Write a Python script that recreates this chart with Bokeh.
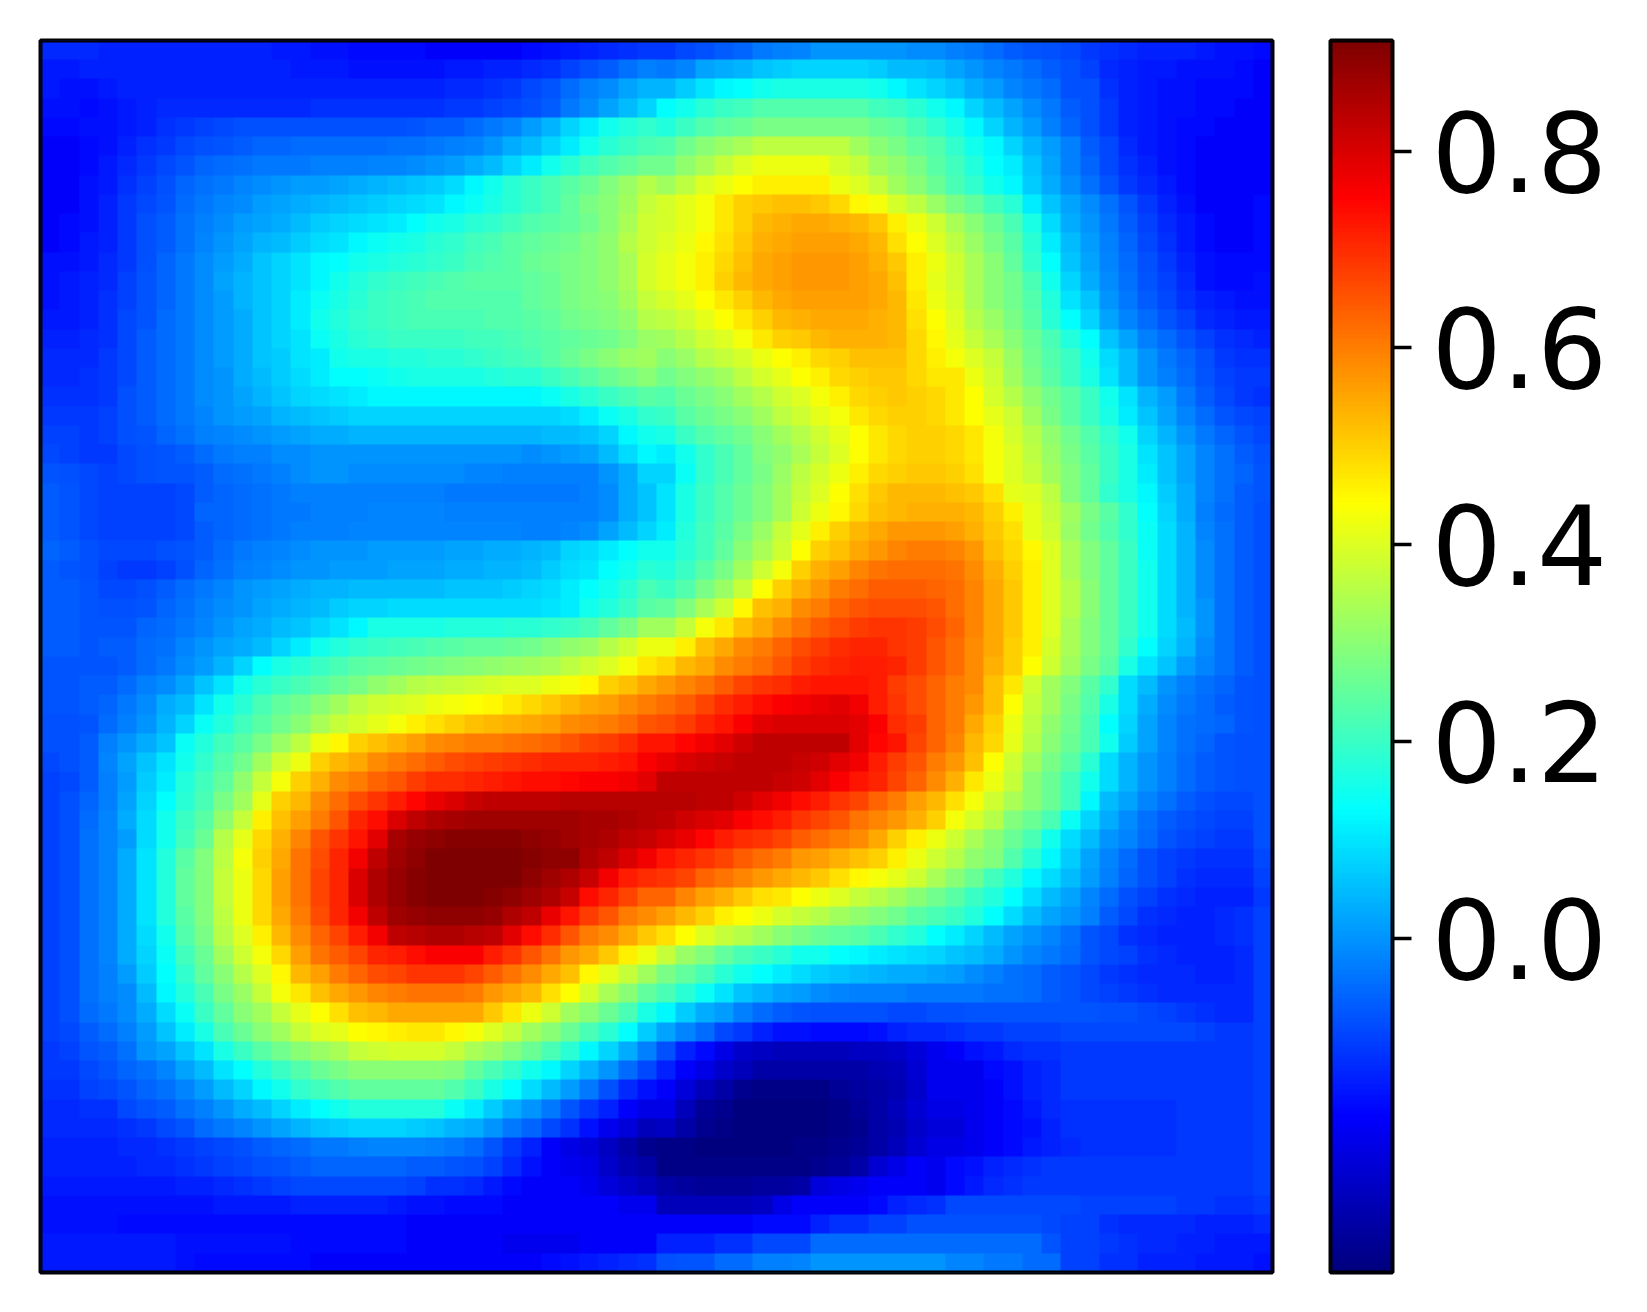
from bokeh.plotting import figure
from bokeh.layouts import row
from bokeh.models import LinearColorMapper, FixedTicker, Range1d, BoxAnnotation, PrintfTickFormatter
from bokeh.embed import file_html
from bokeh.resources import INLINE
import numpy as np

vmin, vmax = -0.34, 0.9126
tick_values = [0.0, 0.2, 0.4, 0.6, 0.8]

# colour readings, in hundredths, one list per image row (top row first)
row_00 = [-15,-15,-15,-16,-16,-16,-16,-16,-16,-16,-16,-16,-17,-17,-18,-18,-19,-19,-19,-19,-20,-20,-20,-20,-20,-19,-18,-17,-16,-15,-14,-13,-13,-11,-10,-8,-7,-4,-3,-2,0,0,0,0,0,-1,-1,-3,-4,-6,-8,-9,-10,-11,-13,-14,-15,-16,-16,-16,-17,-18,-18,-19]
row_01 = [-17,-17,-16,-16,-16,-16,-16,-16,-16,-16,-16,-16,-16,-17,-17,-17,-18,-18,-18,-18,-18,-17,-17,-16,-16,-15,-14,-12,-10,-8,-5,-3,-4,-2,2,3,4,6,7,8,8,8,8,7,5,5,4,2,0,-2,-4,-6,-8,-10,-12,-15,-16,-17,-17,-18,-18,-18,-19,-20]
row_02 = [-17,-18,-18,-17,-16,-16,-16,-16,-16,-16,-16,-16,-16,-16,-16,-16,-16,-16,-16,-16,-16,-15,-15,-14,-13,-11,-9,-6,-3,-1,2,4,4,7,10,12,13,15,16,16,16,16,16,15,12,10,8,6,3,1,-2,-4,-6,-10,-10,-14,-16,-17,-18,-18,-19,-19,-19,-20]
row_03 = [-18,-18,-19,-18,-17,-16,-15,-15,-15,-15,-15,-15,-15,-15,-14,-14,-14,-14,-14,-14,-14,-13,-13,-12,-11,-10,-8,-4,-1,2,5,8,13,15,18,20,21,23,23,23,23,23,23,21,20,18,15,12,8,5,2,-1,-4,-8,-10,-13,-16,-17,-18,-18,-19,-19,-20,-20]
row_04 = [-19,-19,-18,-18,-17,-16,-14,-13,-12,-11,-10,-10,-10,-10,-10,-10,-10,-10,-10,-9,-8,-8,-6,-4,-2,1,4,8,11,15,17,19,17,20,23,25,26,28,28,28,28,28,28,26,25,22,19,16,12,8,4,1,-3,-7,-10,-13,-16,-17,-18,-19,-19,-20,-20,-20]
row_05 = [-20,-20,-19,-18,-16,-14,-13,-11,-10,-9,-8,-7,-7,-6,-6,-6,-6,-6,-5,-5,-4,-3,-2,0,3,5,8,11,15,18,20,22,23,27,30,32,34,36,36,36,36,36,33,30,28,25,23,19,15,12,8,4,1,-3,-8,-11,-15,-17,-18,-19,-20,-20,-20,-20]
row_06 = [-20,-20,-19,-17,-15,-13,-11,-9,-7,-6,-5,-4,-4,-4,-3,-3,-3,-2,-2,-1,0,1,3,5,8,11,15,18,21,23,25,27,27,31,34,37,40,42,42,42,42,39,37,33,31,28,24,21,17,13,11,6,2,-3,-7,-11,-14,-16,-18,-19,-20,-20,-20,-20]
row_07 = [-20,-20,-18,-17,-14,-12,-10,-7,-5,-4,-2,-1,0,1,1,2,3,4,5,6,7,9,12,15,18,20,22,24,26,29,32,35,33,36,40,42,44,46,46,46,46,42,40,37,33,30,26,22,19,15,12,7,3,-1,-5,-9,-13,-15,-17,-19,-20,-20,-20,-20]
row_08 = [-20,-20,-18,-16,-13,-11,-9,-6,-4,-2,-1,1,2,3,4,5,6,7,8,9,10,12,14,16,18,20,22,25,28,30,33,37,39,41,43,47,50,51,52,52,51,49,45,43,39,36,32,28,25,21,18,11,6,2,-1,-5,-9,-13,-16,-18,-20,-20,-20,-19]
row_09 = [-20,-19,-18,-16,-13,-10,-8,-5,-3,-1,1,2,3,5,7,8,9,10,11,13,15,16,18,19,21,23,24,25,27,30,34,38,39,41,43,47,50,53,54,55,55,54,53,51,46,42,38,34,30,26,22,16,9,3,0,-4,-8,-12,-15,-17,-19,-20,-20,-19]
row_10 = [-20,-19,-17,-16,-13,-10,-8,-5,-2,0,2,4,5,7,9,10,12,14,15,16,18,19,21,22,24,25,26,27,29,31,35,38,40,42,45,48,51,54,55,56,56,56,55,53,48,44,40,36,32,28,24,18,11,5,1,-3,-7,-11,-14,-17,-19,-20,-20,-19]
row_11 = [-18,-18,-17,-15,-13,-10,-7,-4,-1,1,3,6,8,10,12,13,15,16,17,18,19,20,22,23,24,26,27,28,29,31,34,39,41,43,46,49,52,55,56,57,57,57,56,54,51,46,42,38,34,30,25,19,13,6,2,-2,-6,-10,-13,-16,-18,-19,-19,-19]
row_12 = [-18,-17,-16,-15,-12,-9,-7,-4,-1,2,4,6,8,10,12,15,17,19,20,21,22,23,24,24,24,25,26,28,29,31,34,39,41,43,46,50,53,55,56,57,57,57,56,55,52,46,41,38,34,30,27,22,15,8,3,-1,-5,-9,-12,-15,-18,-19,-19,-18]
row_13 = [-18,-17,-16,-14,-12,-9,-7,-4,-1,1,4,6,8,11,14,16,18,20,21,22,23,23,23,23,23,25,26,28,29,30,33,37,39,41,44,47,50,53,55,56,56,56,56,55,53,47,42,39,34,30,27,23,17,10,6,0,-4,-8,-11,-14,-16,-17,-18,-18]
row_14 = [-17,-17,-16,-14,-11,-9,-6,-4,-1,1,3,6,8,11,15,17,19,20,21,22,22,22,22,23,23,24,25,27,28,29,31,35,36,38,41,44,47,50,53,54,55,55,55,54,53,48,44,40,35,32,28,24,18,13,8,2,-2,-6,-9,-12,-15,-16,-17,-17]
row_15 = [-16,-16,-15,-14,-11,-8,-6,-4,-1,1,3,6,8,10,14,16,18,19,20,20,20,20,21,21,22,23,24,25,26,27,29,32,33,35,38,40,43,47,50,51,53,54,54,54,53,49,45,41,37,34,30,26,22,17,13,6,2,-3,-6,-9,-12,-14,-15,-16]
row_16 = [-15,-15,-15,-13,-11,-8,-6,-4,-1,1,3,6,7,10,11,15,16,16,17,17,18,18,19,20,21,22,24,26,28,30,32,33,30,32,35,37,39,42,44,46,49,50,52,52,52,49,46,43,40,37,32,27,23,20,15,9,5,0,-4,-7,-10,-13,-14,-14]
row_17 = [-15,-15,-14,-13,-11,-8,-6,-4,-1,0,3,5,7,9,11,13,13,14,15,16,16,16,16,17,18,18,20,22,24,26,28,30,27,29,31,33,36,39,41,44,46,49,50,51,51,49,47,47,42,38,33,28,24,20,16,10,5,0,-3,-6,-9,-12,-13,-13]
row_18 = [-14,-14,-14,-13,-10,-8,-6,-4,-1,0,2,4,6,8,9,10,11,12,12,12,12,12,12,12,12,12,14,16,18,20,22,24,23,26,28,30,33,35,38,40,43,46,49,50,51,50,49,47,44,39,35,31,27,24,20,15,10,4,1,-4,-8,-11,-13,-14]
row_19 = [-13,-13,-13,-12,-10,-8,-6,-4,-2,0,1,2,4,5,6,7,8,8,8,8,8,8,8,8,8,8,8,9,11,14,16,19,20,24,26,28,30,33,36,38,41,43,47,49,50,50,49,47,44,41,38,33,28,24,20,16,11,6,2,-2,-6,-9,-11,-12]
row_20 = [-12,-12,-13,-12,-10,-9,-7,-5,-3,-2,-1,0,1,2,3,3,4,4,4,4,4,4,4,4,4,4,5,5,6,8,12,15,16,20,23,25,27,30,33,35,38,41,44,47,49,50,50,49,47,43,39,35,31,27,23,19,15,8,4,0,-4,-7,-9,-11]
row_21 = [-11,-12,-13,-13,-11,-10,-9,-8,-6,-4,-3,-3,-1,-1,0,0,0,0,0,0,0,0,0,0,0,-1,0,1,2,5,9,12,11,15,19,22,25,29,31,34,37,40,44,47,49,50,50,49,47,43,40,36,32,28,24,20,16,10,6,2,-2,-5,-8,-10]
row_22 = [-9,-10,-11,-12,-11,-10,-9,-9,-8,-6,-5,-4,-3,-1,0,0,-1,-1,-1,-1,-1,-1,-2,-2,-3,-3,-3,-3,-3,0,3,8,8,14,19,22,25,28,32,36,39,42,46,49,50,51,51,50,48,43,40,37,33,29,25,20,16,11,6,2,-2,-5,-7,-9]
row_23 = [-8,-9,-11,-12,-12,-12,-12,-11,-8,-7,-6,-5,-4,-3,-3,-3,-3,-3,-3,-3,-3,-4,-4,-4,-4,-4,-4,-4,-3,-1,3,6,10,16,20,23,26,29,33,37,40,44,48,51,53,53,53,52,51,48,41,40,36,29,25,19,16,12,7,3,-2,-5,-8,-9]
row_24 = [-8,-9,-11,-12,-12,-12,-12,-11,-7,-7,-6,-5,-4,-4,-3,-3,-3,-2,-2,-2,-2,-3,-3,-3,-3,-3,-3,-3,-3,-1,3,6,10,16,20,23,26,29,33,38,42,45,49,52,53,54,54,54,53,50,46,41,37,33,28,24,19,13,8,3,-3,-6,-8,-10]
row_25 = [-8,-9,-11,-12,-12,-12,-12,-11,-8,-7,-6,-5,-4,-3,-3,-3,-2,-2,-2,-2,-2,-2,-2,-2,-2,-3,-3,-2,-1,2,5,8,11,17,21,24,28,32,37,41,46,50,53,55,57,57,57,56,54,51,48,41,38,32,27,23,19,14,9,4,-2,-5,-8,-10]
row_26 = [-7,-8,-10,-11,-11,-11,-10,-9,-8,-6,-4,-3,-2,-1,0,0,0,1,1,1,1,2,2,3,3,4,5,8,9,11,13,15,15,18,21,25,30,34,38,44,50,52,55,57,59,60,60,59,57,52,49,45,40,34,29,25,20,14,9,4,-1,-5,-8,-10]
row_27 = [-8,-9,-10,-12,-13,-13,-12,-10,-7,-5,-3,-2,-1,0,0,1,1,1,2,2,2,3,3,4,4,5,7,9,10,13,15,18,17,20,24,28,33,38,43,50,54,56,59,61,62,62,62,61,58,54,50,46,40,34,29,25,20,15,9,4,-1,-5,-8,-10]
row_28 = [-8,-8,-9,-11,-11,-10,-8,-6,-4,-2,0,1,2,3,4,4,5,5,5,5,5,6,6,6,7,8,9,11,13,15,18,22,20,23,28,32,37,44,50,54,57,60,62,64,64,64,63,62,59,55,51,46,40,35,30,25,20,15,9,4,-1,-5,-8,-10]
row_29 = [-8,-8,-9,-10,-10,-9,-7,-5,-3,-1,0,2,3,4,5,7,8,8,9,9,9,9,9,9,9,9,10,11,15,17,20,24,25,29,34,38,45,52,54,58,60,63,65,66,66,66,65,62,59,55,51,46,40,35,30,25,20,15,9,4,0,-5,-8,-10]
row_30 = [-8,-8,-9,-9,-9,-7,-6,-4,-2,0,2,3,5,6,8,10,12,16,16,16,16,17,17,17,18,18,19,20,22,25,28,33,33,37,43,47,52,55,58,61,64,66,68,69,69,68,66,63,59,55,51,46,40,34,29,25,20,15,9,5,0,-5,-8,-10]
row_31 = [-8,-8,-9,-8,-8,-6,-5,-2,0,2,3,5,8,11,15,17,19,20,21,22,23,24,25,25,26,27,29,31,32,35,38,42,42,46,52,55,58,60,63,66,68,70,71,71,69,68,65,62,58,55,50,46,39,34,29,25,19,13,8,4,-1,-5,-8,-10]
row_32 = [-9,-9,-9,-9,-8,-6,-4,-1,1,4,8,13,16,18,20,22,24,25,26,27,28,29,30,31,32,33,34,36,38,40,43,47,49,53,55,58,60,62,65,68,70,71,72,72,71,68,65,62,58,54,50,44,38,33,28,24,16,10,6,1,-2,-5,-8,-10]
row_33 = [-9,-9,-8,-8,-6,-3,-1,2,6,10,15,18,20,22,24,26,28,31,33,35,36,37,38,39,40,40,42,43,45,50,52,55,57,59,61,64,67,69,70,72,73,73,73,72,68,66,63,60,58,52,47,38,33,29,24,19,9,5,0,-3,-5,-7,-9,-10]
row_34 = [-9,-9,-8,-7,-4,-1,3,5,10,15,18,22,25,27,30,33,36,38,39,40,42,43,44,45,47,49,51,53,55,56,58,60,62,64,67,70,72,74,76,77,78,79,77,72,69,66,63,60,57,52,44,37,33,28,23,16,9,3,-1,-4,-6,-8,-9,-10]
row_35 = [-10,-10,-9,-6,-3,0,4,8,14,17,21,24,27,30,34,37,39,41,43,46,48,50,52,53,54,55,56,58,59,60,62,65,66,68,71,73,76,79,80,80,80,80,79,76,70,68,63,60,55,50,42,36,31,27,22,13,8,2,-2,-5,-6,-7,-9,-10]
row_36 = [-10,-10,-8,-3,0,3,6,14,17,21,24,28,32,36,42,45,50,52,54,56,58,59,60,60,61,62,63,65,67,68,70,73,73,75,77,79,81,83,83,83,83,83,79,75,73,67,63,59,53,49,41,35,30,26,22,15,7,2,-2,-5,-7,-9,-10,-10]
row_37 = [-11,-10,-8,-2,2,6,10,15,19,23,27,33,38,42,50,53,55,58,60,62,64,66,67,68,69,70,71,71,71,72,73,76,78,80,81,82,83,83,83,82,81,79,77,72,68,65,60,57,52,44,38,33,28,24,18,9,4,0,-3,-6,-8,-9,-10,-10]
row_38 = [-12,-11,-8,-3,1,7,11,17,21,25,31,37,43,50,54,58,60,63,65,68,70,70,71,72,73,74,74,75,76,76,77,79,83,83,83,83,83,83,82,81,79,76,73,71,67,63,58,54,47,42,37,30,26,21,15,9,4,0,-3,-6,-8,-9,-10,-10]
row_39 = [-12,-10,-7,-3,2,8,13,18,22,28,33,41,50,53,58,62,66,69,72,75,78,80,82,83,83,83,83,84,84,84,84,84,84,84,83,83,81,79,77,74,72,69,67,63,60,56,53,48,43,38,34,30,26,21,12,5,2,-2,-5,-8,-10,-11,-11,-10]
row_40 = [-12,-10,-6,-2,3,9,15,20,24,31,37,46,52,56,60,65,71,74,80,83,85,86,87,87,87,87,87,87,86,86,85,84,83,81,80,79,76,74,72,69,67,65,61,59,57,54,50,43,39,35,29,26,22,14,8,3,-1,-5,-8,-10,-11,-12,-12,-10]
row_41 = [-12,-10,-5,-2,1,9,15,21,26,35,41,49,54,59,65,69,73,79,86,88,89,90,90,90,90,89,88,87,86,85,83,82,80,78,75,72,70,69,67,64,62,60,58,55,50,46,42,38,34,30,26,22,15,9,5,0,-2,-6,-9,-11,-12,-13,-13,-10]
row_42 = [-12,-10,-5,-2,3,10,17,24,29,36,43,50,55,61,66,71,77,83,87,89,91,91,91,91,91,90,89,89,85,83,80,77,73,71,69,67,64,62,60,57,56,54,52,50,46,42,38,35,31,29,23,18,12,7,2,-2,-6,-10,-12,-13,-14,-14,-14,-11]
row_43 = [-12,-10,-5,-2,3,10,17,25,29,37,42,49,56,61,67,71,80,85,88,90,91,91,91,91,91,89,87,85,82,77,72,70,69,67,63,61,59,57,55,53,51,48,45,43,41,38,34,30,26,21,17,12,9,5,1,-3,-7,-10,-12,-14,-15,-15,-15,-12]
row_44 = [-12,-10,-5,-2,3,10,17,25,29,37,42,49,56,61,67,71,80,85,88,90,91,91,91,90,89,87,85,82,74,71,67,63,63,59,56,54,51,48,47,44,42,40,37,35,33,30,27,24,20,17,13,9,5,2,-2,-6,-10,-12,-14,-15,-16,-16,-16,-13]
row_45 = [-12,-10,-5,-2,3,10,17,24,29,36,42,49,55,60,66,71,77,83,87,88,89,89,89,88,85,83,78,73,68,65,60,58,56,53,50,46,44,42,39,37,35,33,31,29,27,24,22,20,17,13,9,5,2,0,-3,-8,-11,-14,-15,-16,-16,-15,-14,-12]
row_46 = [-12,-10,-5,-2,3,9,15,23,28,35,40,46,53,58,63,67,72,77,83,84,85,85,84,83,79,74,70,65,60,58,55,51,48,44,40,37,35,33,30,28,26,25,24,22,19,17,13,11,8,5,2,0,-2,-5,-9,-11,-14,-15,-16,-16,-16,-15,-14,-12]
row_47 = [-12,-10,-5,-2,3,8,14,21,26,33,38,43,49,56,61,64,67,71,72,74,76,76,76,72,69,65,61,57,55,51,46,42,37,32,29,25,22,20,18,15,15,13,12,11,10,9,8,6,5,3,0,-2,-4,-6,-9,-11,-12,-14,-15,-16,-16,-16,-15,-12]
row_48 = [-12,-10,-5,-3,1,7,13,19,25,30,35,40,45,53,56,60,63,66,67,69,69,69,67,64,61,58,55,52,45,41,37,33,28,25,22,18,15,13,11,9,7,6,5,4,3,3,2,1,-1,-3,-5,-6,-8,-9,-11,-13,-14,-15,-15,-15,-16,-16,-15,-12]
row_49 = [-12,-10,-5,-3,-1,5,12,17,22,28,32,37,43,47,52,55,57,59,60,61,61,61,60,57,55,53,48,44,39,34,30,25,22,18,14,10,6,4,2,1,-1,-2,-3,-3,-3,-4,-4,-4,-4,-5,-5,-6,-8,-9,-11,-12,-13,-14,-15,-15,-15,-15,-15,-12]
row_50 = [-12,-10,-6,-4,-1,3,9,14,20,25,30,33,37,41,44,48,52,53,55,55,55,55,55,51,47,42,38,33,30,26,22,16,12,7,3,1,-3,-6,-8,-9,-10,-10,-10,-10,-11,-11,-10,-10,-9,-9,-9,-9,-9,-9,-9,-10,-10,-11,-12,-13,-14,-15,-15,-12]
row_51 = [-12,-11,-8,-6,-3,1,6,11,16,22,26,30,33,37,40,41,44,45,46,47,47,45,43,40,37,33,30,26,22,18,13,7,2,-2,-6,-11,-13,-16,-18,-18,-19,-19,-19,-18,-16,-15,-15,-14,-13,-13,-12,-12,-12,-11,-11,-11,-11,-11,-11,-11,-12,-13,-13,-12]
row_52 = [-13,-12,-9,-8,-5,0,2,6,10,16,20,24,27,30,32,34,37,38,39,39,39,37,34,32,29,26,22,18,12,8,3,-3,-10,-16,-19,-22,-25,-26,-27,-27,-27,-27,-26,-26,-25,-23,-21,-20,-18,-17,-15,-14,-14,-13,-13,-13,-13,-13,-13,-13,-13,-13,-13,-12]
row_53 = [-13,-13,-11,-9,-7,-5,-2,2,5,10,13,17,20,23,26,28,30,30,30,30,30,29,25,22,19,15,12,8,4,0,-6,-11,-16,-20,-22,-25,-27,-29,-29,-29,-29,-29,-29,-28,-27,-24,-21,-21,-21,-19,-18,-16,-15,-13,-13,-13,-13,-13,-13,-13,-13,-13,-13,-12]
row_54 = [-14,-14,-12,-11,-9,-7,-5,-2,1,5,8,12,15,19,21,23,25,25,25,25,25,23,20,16,13,9,5,1,-4,-10,-15,-18,-20,-23,-27,-29,-32,-33,-33,-33,-33,-31,-30,-29,-28,-25,-21,-21,-21,-20,-18,-16,-15,-13,-13,-13,-13,-13,-13,-13,-13,-13,-13,-12]
row_55 = [-15,-15,-14,-14,-11,-9,-8,-5,-3,0,3,5,8,11,13,15,17,17,17,17,17,14,11,7,3,0,-4,-9,-13,-16,-20,-22,-22,-27,-31,-32,-34,-34,-34,-34,-34,-33,-31,-29,-27,-24,-22,-22,-21,-20,-19,-17,-15,-14,-14,-14,-14,-14,-14,-13,-13,-13,-13,-12]
row_56 = [-15,-15,-15,-15,-14,-13,-11,-9,-6,-4,-2,0,2,4,6,7,8,8,8,7,6,4,3,0,-4,-7,-11,-14,-18,-21,-23,-27,-26,-29,-32,-33,-34,-34,-34,-34,-34,-33,-32,-29,-28,-25,-23,-23,-21,-20,-19,-18,-16,-14,-14,-14,-14,-14,-14,-13,-13,-13,-13,-12]
row_57 = [-16,-16,-16,-16,-15,-15,-14,-13,-12,-11,-10,-8,-7,-6,-4,-4,-3,-2,-2,-2,-3,-4,-6,-9,-13,-16,-20,-22,-23,-26,-29,-32,-33,-33,-34,-34,-34,-34,-34,-33,-33,-32,-31,-29,-27,-24,-22,-22,-21,-20,-19,-17,-16,-15,-14,-14,-14,-14,-14,-13,-13,-13,-13,-12]
row_58 = [-16,-16,-16,-16,-16,-15,-15,-14,-13,-12,-11,-10,-9,-8,-7,-7,-7,-7,-7,-8,-8,-9,-10,-12,-15,-18,-20,-21,-22,-25,-28,-29,-33,-33,-33,-33,-33,-33,-33,-33,-32,-31,-29,-24,-22,-20,-21,-19,-18,-16,-15,-14,-13,-13,-13,-13,-13,-13,-13,-13,-13,-13,-13,-12]
row_59 = [-17,-17,-17,-17,-17,-17,-17,-16,-16,-15,-14,-13,-12,-11,-11,-11,-11,-11,-11,-12,-14,-14,-15,-17,-19,-20,-20,-20,-21,-23,-25,-27,-29,-30,-31,-31,-31,-30,-30,-29,-23,-22,-21,-20,-20,-20,-21,-19,-17,-15,-14,-13,-13,-13,-13,-13,-13,-13,-13,-13,-13,-13,-13,-12]
row_60 = [-18,-18,-18,-18,-18,-18,-18,-18,-18,-17,-17,-17,-17,-16,-16,-16,-16,-16,-17,-18,-18,-19,-19,-19,-20,-20,-20,-20,-20,-20,-21,-21,-27,-27,-27,-27,-27,-26,-22,-20,-20,-20,-20,-19,-16,-15,-14,-11,-11,-11,-11,-11,-11,-11,-12,-12,-12,-12,-12,-13,-13,-14,-14,-13]
row_61 = [-18,-18,-18,-18,-19,-19,-19,-19,-19,-19,-19,-19,-19,-19,-19,-19,-19,-19,-19,-20,-20,-20,-20,-20,-20,-20,-20,-20,-20,-20,-20,-20,-20,-20,-20,-20,-20,-19,-19,-19,-16,-14,-14,-12,-12,-10,-10,-10,-10,-10,-10,-10,-11,-12,-12,-14,-15,-15,-15,-15,-16,-16,-16,-15]
row_62 = [-17,-17,-17,-17,-17,-17,-17,-18,-18,-18,-18,-18,-18,-19,-19,-19,-19,-19,-19,-20,-20,-20,-20,-20,-21,-21,-21,-21,-20,-20,-20,-20,-16,-16,-16,-14,-14,-11,-11,-11,-6,-6,-6,-6,-6,-6,-6,-6,-6,-6,-6,-6,-9,-12,-12,-13,-14,-15,-15,-16,-16,-17,-17,-17]
row_63 = [-17,-17,-17,-17,-17,-17,-17,-18,-19,-19,-19,-19,-19,-19,-20,-20,-20,-20,-20,-20,-20,-20,-20,-20,-20,-20,-19,-18,-17,-16,-15,-14,-10,-9,-9,-6,-6,-3,-3,-2,0,0,0,0,0,0,0,-2,-2,-4,-4,-6,-6,-12,-12,-14,-14,-16,-16,-16,-17,-17,-17,-18]

# how the blue readings above relate to the colour scale
reading_knots = [-34, -27, -23, -21, -20, -18, -16, -14, -12, -10, -8, -6, -4, 0, 100]
value_knots = [-34, -26.5, -22.5, -20, -18.5, -16, -14, -12, -10.5, -8.5, -7, -5, -3.5, 0, 100]

rows = [globals()[f"row_{i:02d}"] for i in range(64)]
for i, r in enumerate(rows):
    assert len(r) == 64, (i, len(r))
field = np.interp(np.array(rows, dtype=float)[::-1], reading_knots, value_knots) / 100.0


def jet(t):
    r = np.clip(np.minimum(4 * t - 1.5, -4 * t + 4.5), 0, 1)
    g = np.clip(np.minimum(4 * t - 0.5, -4 * t + 3.5), 0, 1)
    b = np.clip(np.minimum(4 * t + 0.5, -4 * t + 2.5), 0, 1)
    return "#%02x%02x%02x" % (int(r * 255), int(g * 255), int(b * 255))


palette = [jet(i / 255) for i in range(256)]
mapper = LinearColorMapper(palette=palette, low=vmin, high=vmax)

p = figure(frame_width=1232, frame_height=1232, x_range=Range1d(0, 64), y_range=Range1d(0, 64),
           x_axis_location=None, y_axis_location=None, toolbar_location=None, output_backend="svg",
           min_border_left=40, min_border_top=40, min_border_right=26, min_border_bottom=26,
           outline_line_color="black", outline_line_width=4, outline_line_alpha=1)
p.grid.visible = False
p.image(image=[field], x=0, y=0, dw=64, dh=64, color_mapper=mapper)
p.add_layout(BoxAnnotation(left=0, right=64, bottom=0, top=64, fill_alpha=0, fill_color=None,
                           line_color="black", line_width=4, line_alpha=1, level="overlay"))

levels = np.linspace(vmin, vmax, 256).reshape(256, 1)
c = figure(frame_width=62, frame_height=1232, x_range=Range1d(0, 1), y_range=Range1d(vmin, vmax),
           x_axis_location=None, y_axis_location="right", toolbar_location=None, output_backend="svg",
           min_border_left=32, min_border_top=40, min_border_right=10, min_border_bottom=26,
           outline_line_color="black", outline_line_width=4, outline_line_alpha=1)
c.grid.visible = False
c.image(image=[levels], x=0, y=vmin, dw=1, dh=vmax - vmin, color_mapper=mapper)
c.add_layout(BoxAnnotation(left=0, right=1, bottom=vmin, top=vmax, fill_alpha=0, fill_color=None,
                           line_color="black", line_width=4, line_alpha=1, level="overlay"))
ax = c.yaxis[0]
ax.ticker = FixedTicker(ticks=tick_values)
ax.formatter = PrintfTickFormatter(format="%.1f")
ax.axis_line_color = None
ax.major_tick_in = 0
ax.major_tick_out = 19
ax.major_tick_line_width = 3.5
ax.major_tick_line_color = "black"
ax.minor_tick_line_color = None
ax.major_label_text_font = "DejaVu Sans"
ax.major_label_text_font_size = "110.5px"
ax.major_label_text_color = "black"
ax.major_label_standoff = 20

layout = row(p, c)
open("out.html", "w").write(file_html(layout, INLINE))
